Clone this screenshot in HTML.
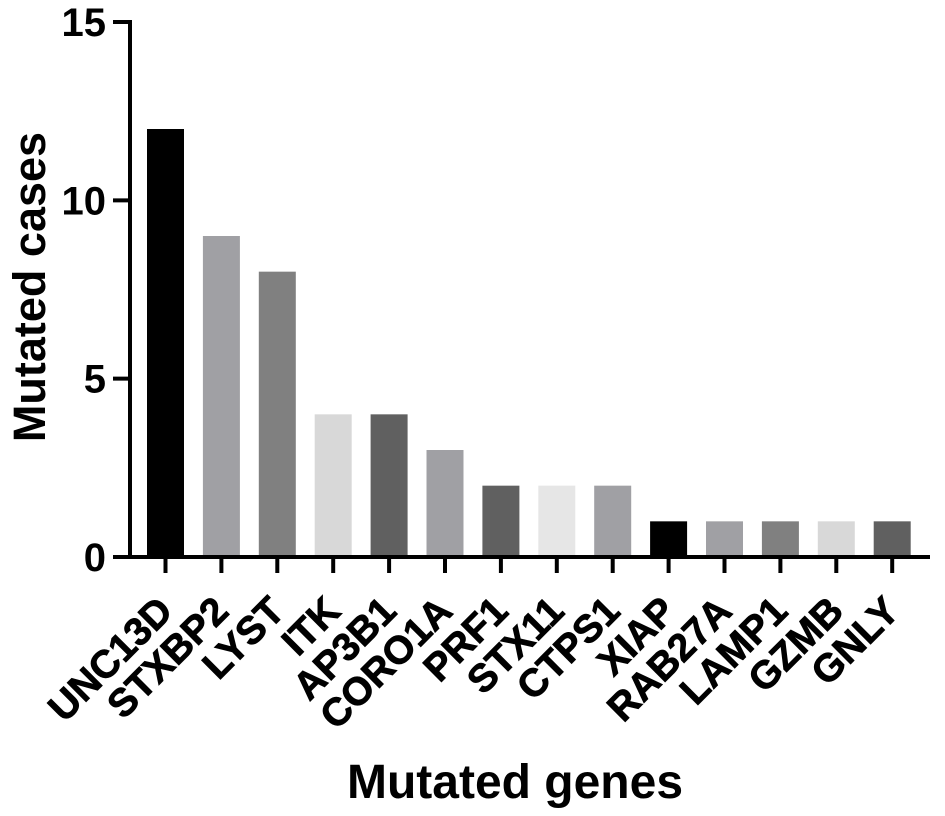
<!DOCTYPE html>
<html><head><meta charset="utf-8"><style>
body{margin:0;background:#fff;}
svg{display:block;font-family:"Liberation Sans",Arial,sans-serif;font-weight:bold;}
</style></head><body>
<svg id="chart" width="945" height="816">
<g id="plot"></g>
<text x="515" y="798" text-anchor="middle" font-size="48">Mutated genes</text>
<text transform="translate(45,287) rotate(-90)" text-anchor="middle" font-size="45">Mutated cases</text>
</svg>
<script>
const categories=["UNC13D","STXBP2","LYST","ITK","AP3B1","CORO1A","PRF1","STX11","CTPS1","XIAP","RAB27A","LAMP1","GZMB","GNLY"];
const values=[12,9,8,4,4,3,2,2,2,1,1,1,1,1];
const colors=["#000000","#a0a0a4","#808080","#d8d8d8","#606060","#a0a0a4","#606060","#e6e6e6","#a0a0a4","#000000","#a0a0a4","#808080","#d8d8d8","#606060"];
const yTicks=[0,5,10,15];
const NS="http://www.w3.org/2000/svg";
const g=document.getElementById('plot');
const y=v=>557-v*(557-22)/15;
const x=i=>165.5+i*55.9;
function mk(t,a){const e=document.createElementNS(NS,t);for(const k in a)e.setAttribute(k,a[k]);g.appendChild(e);return e;}
categories.forEach((c,i)=>{
  const r=mk('rect',{x:x(i)-18.5,y:y(values[i]),width:37,height:557-y(values[i]),fill:colors[i]});
  
  
  const t=mk('line',{x1:x(i),x2:x(i),y1:557,y2:573,stroke:'#000','stroke-width':4});
  
  
  const l=mk('text',{transform:`translate(${x(i)-10},${594}) rotate(-45)`,'text-anchor':'end','dominant-baseline':'hanging','font-size':39,'stroke':'#000','stroke-width':0.8});
  l.textContent=c;
  
  
});
yTicks.forEach(v=>{
  const t=mk('line',{x1:113,x2:130,y1:y(v),y2:y(v),stroke:'#000','stroke-width':4});
  
  
  const l=mk('text',{x:106,y:y(v)+14,'text-anchor':'end','font-size':40});
  l.textContent=v;
  
  
});
const ya=mk('line',{x1:130,x2:130,y1:20,y2:557,stroke:'#000','stroke-width':4});


const xa=mk('line',{x1:113,x2:930,y1:557,y2:557,stroke:'#000','stroke-width':4});


</script>
</body></html>
